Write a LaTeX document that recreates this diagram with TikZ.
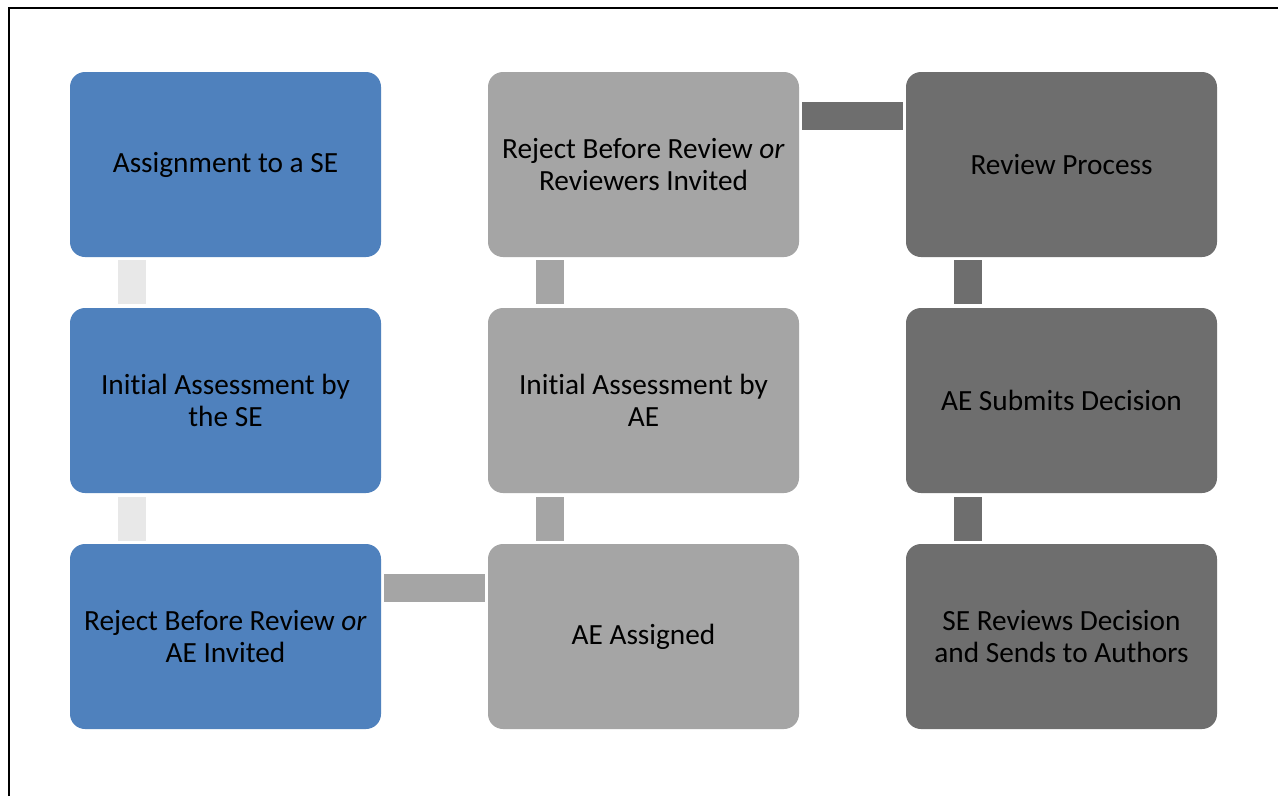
\documentclass[tikz,border=0pt]{standalone}
\usepackage{fontspec}
\setmainfont[Ligatures=NoCommon]{Carlito}
\definecolor{cblue}{HTML}{4F81BD}
\definecolor{cgray}{HTML}{A5A5A5}
\definecolor{cdark}{HTML}{6E6E6E}
\definecolor{clight}{HTML}{E8E8E8}
\begin{document}
\begin{tikzpicture}[x=1pt,y=-1pt,
  stepbox/.style={rounded corners=15pt, minimum width=311pt, minimum height=185pt, inner sep=0pt, align=center, font=\fontsize{29.3}{32}\selectfont, text=black},
  bluebox/.style={stepbox, fill=cblue},
  graybox/.style={stepbox, fill=cgray},
  darkbox/.style={stepbox, fill=cdark},
  vlink/.style={minimum width=28pt, minimum height=44pt, inner sep=0pt},
  hlink/.style={minimum width=101pt, minimum height=28pt, inner sep=0pt}]
\useasboundingbox (0,0) rectangle (1278,796);
\fill[white] (0,0) rectangle (1278,796);
\draw[line width=2pt] (9,796) -- (9,8) -- (1278,8);
% column 1
\node[bluebox] (a1) at (225.5,164.5) {Assignment to a SE};
\node[bluebox] (a2) at (225.5,400.5) {Initial Assessment by\\the SE};
\node[bluebox] (a3) at (225.5,636.5) {Reject Before Review \emph{or}\\AE Invited};
% column 2
\node[graybox] (b1) at (643.5,164.5) {Reject Before Review \emph{or}\\Reviewers Invited};
\node[graybox] (b2) at (643.5,400.5) {Initial Assessment by\\AE};
\node[graybox] (b3) at (643.5,636.5) {AE Assigned};
% column 3
\node[darkbox] (c1) at (1061.5,164.5) {Review Process};
\node[darkbox] (c2) at (1061.5,400.5) {AE Submits Decision};
\node[darkbox] (c3) at (1061.5,636.5) {SE Reviews Decision\\and Sends to Authors};
% connectors
\node[vlink, fill=clight] (l1) at (132,282) {};
\node[vlink, fill=clight] (l2) at (132,518.5) {};
\node[hlink, fill=cgray] (l3) at (434.5,588) {};
\node[vlink, fill=cgray] (l4) at (550,518.5) {};
\node[vlink, fill=cgray] (l5) at (550,282) {};
\node[hlink, fill=cdark] (l6) at (852.5,116) {};
\node[vlink, fill=cdark] (l7) at (968,282) {};
\node[vlink, fill=cdark] (l8) at (968,518.5) {};
\end{tikzpicture}
\end{document}
